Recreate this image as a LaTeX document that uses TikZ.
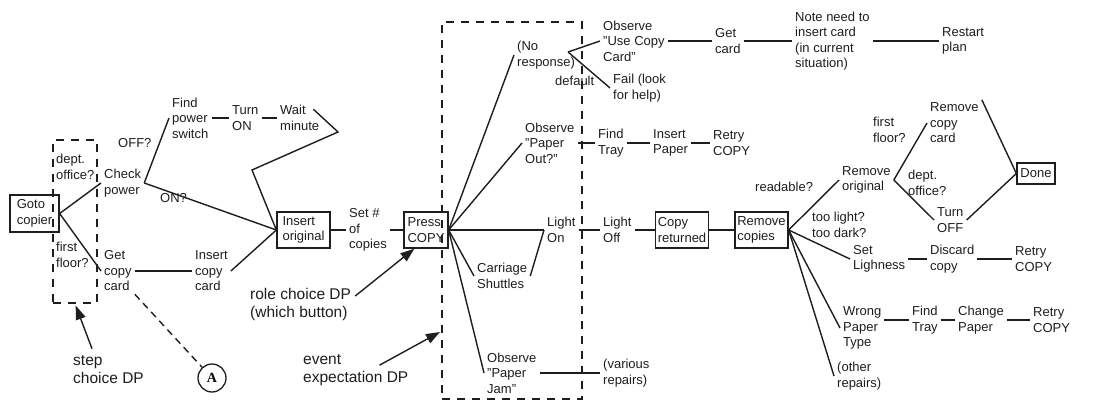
\documentclass[tikz,border=0pt]{standalone}
\usepackage{fontspec}
\setmainfont{Liberation Sans}
\newfontfamily\circfont{Liberation Serif}
\usetikzlibrary{arrows.meta,positioning,calc}
\definecolor{ink}{HTML}{1E1E1E}
\newcommand{\dtext}{\fontsize{13}{15.5}\selectfont}
\newcommand{\dptext}{\fontsize{15.5}{18}\selectfont}
\tikzset{act/.style={font=\dtext,align=left,inner sep=3pt,text=ink,anchor=west},actbox/.style={draw=ink,line width=1.3pt,font=\dtext,align=left,inner sep=2pt,text=ink},dplab/.style={font=\dptext,align=left,inner sep=2pt,text=ink,anchor=west},dpframe/.style={draw=ink,line width=1.4pt,dash pattern=on 8pt off 7pt},ln/.style={draw=ink,line width=1.4pt},dparr/.style={ln,-{Triangle[length=14pt,width=10pt]}}}

\begin{document}
\begin{tikzpicture}[x=1pt,y=-1pt]
\fill[white] (0,0) rectangle (1102,401);
\useasboundingbox (0,0) rectangle (1102,401);
% decision point frames
\node[dpframe,minimum width=44,minimum height=163] (stepbox) at (75,221.5) {};
\node[dpframe,minimum width=140,minimum height=377] (evbox) at (512,210.5) {};
% left part
\node[actbox,minimum width=49,minimum height=37] (goto) at (34.5,213.5) {Goto\\copier};
\node[act] (deptL) at (53,167) {dept.\\office?};
\node[act] (firstL) at (53,255) {first\\floor?};
\node[act] (check) at (101,183) {Check\\power};
\node[act] (getcard) at (101,271) {Get\\copy\\card};
\node[act] (offq) at (115,143) {OFF?};
\node[act] (onq) at (157,198) {ON?};
\node[act] (findps) at (169,118) {Find\\power\\switch};
\node[act] (turnon) at (229,118) {Turn\\ON};
\node[act] (wait) at (277,118) {Wait\\minute};
\node[act] (inscard) at (192,271) {Insert\\copy\\card};
\node[actbox,minimum width=53,minimum height=36] (insorig) at (303.5,230) {Insert\\original};
\node[act] (setn) at (346,230) {Set \#\\of\\copies};
\node[actbox,minimum width=44,minimum height=36] (press) at (426,230) {Press\\COPY};
\coordinate (wtip) at (338,132);
\coordinate (wbend) at (252,170);
\node[draw=ink,line width=1.3pt,circle,minimum size=28,inner sep=0pt,font=\circfont\bfseries\fontsize{14}{14}\selectfont] (circA) at (212,378) {A};
% after pressing copy
\node[act] (noresp) at (514,55) {(No\\response)};
\coordinate (nrv) at (568,52);
\node[act] (useobs) at (600,41) {Observe\\"Use Copy\\Card"};
\node[act] (fail) at (610,88) {Fail (look\\for help)};
\node[act] (dflt) at (552,81) {default};
\node[act] (getc) at (712,41) {Get\\card};
\node[act] (note) at (792,41) {Note need to\\insert card\\(in current\\situation)};
\node[act] (restart) at (939,41) {Restart\\plan};
\node[act] (paperout) at (522,143) {Observe\\"Paper\\Out?"};
\node[act] (findtray1) at (595,143) {Find\\Tray};
\node[act] (inspaper) at (650,143) {Insert\\Paper};
\node[act] (retry1) at (710,143) {Retry\\COPY};
\node[act] (lighton) at (544,230) {Light\\On};
\node[act] (lightoff) at (600,230) {Light\\Off};
\node[actbox,minimum width=52,minimum height=36] (copyret) at (682,230) {Copy\\returned};
\node[actbox,minimum width=53,minimum height=36] (remcop) at (761.5,230) {Remove\\copies};
\node[act] (carriage) at (474,276) {Carriage\\Shuttles};
\node[act] (jam) at (484,373) {Observe\\"Paper\\Jam"};
\node[act] (various) at (600,373) {(various\\repairs)};
% right part
\node[act] (readable) at (752,187) {readable?};
\node[act] (remorig) at (839,180) {Remove\\original};
\node[act] (firstR) at (870,130) {first\\floor?};
\node[act] (deptR) at (905,183) {dept.\\office?};
\node[act] (remcard) at (927,123) {Remove\\copy\\card};
\node[act] (turnoff) at (934,220) {Turn\\OFF};
\node[actbox,minimum width=38,minimum height=21] (done) at (1036,173.5) {Done};
\node[act] (toolight) at (809,225) {too light?\\too dark?};
\node[act] (setlight) at (850,259) {Set\\Lighness};
\node[act] (discard) at (927,259) {Discard\\copy};
\node[act] (retry2) at (1012,259) {Retry\\COPY};
\node[act] (wrong) at (840,328) {Wrong\\Paper\\Type};
\node[act] (findtray2) at (909,320) {Find\\Tray};
\node[act] (change) at (955,320) {Change\\Paper};
\node[act] (retry3) at (1030,320) {Retry\\COPY};
\node[act] (otherrep) at (834,376) {(other\\repairs)};
% annotations
\node[dplab] (stepdp) at (71,370) {step\\choice DP};
\node[dplab] (roledp) at (248,304) {role choice DP\\(which button)};
\node[dplab] (eventdp) at (301,370) {event\\expectation DP};
\coordinate (evtip) at (440,332);
% connectors
\draw[ln] (goto.east) -- (check.west);
\draw[ln] (goto.east) -- (getcard.west);
\draw[ln] (check.east) -- (findps.west);
\draw[ln] (check.east) -- (insorig.west);
\draw[ln] (findps.east) -- (turnon.west);
\draw[ln] (turnon.east) -- (wait.west);
\draw[ln] (wait.north east) ++(-9,7) -- (wtip) -- (wbend) -- (insorig.west);
\draw[ln] (getcard.east) -- (inscard.west);
\draw[ln] (inscard.east) -- (insorig.west);
\draw[ln] (insorig.east) -- (setn.west);
\draw[ln] (setn.east) -- (press.west);
\draw[ln,dash pattern=on 7pt off 5pt] (getcard.south east) -- (circA);
\draw[ln] (press.east) -- (noresp.west);
\draw[ln] (press.east) -- (paperout.west);
\draw[ln] (press.east) -- (lighton.west);
\draw[ln] (press.east) -- (carriage.west);
\draw[ln] (press.east) -- (jam.west);
\draw[ln] (carriage.east) -- (lighton.west);
\draw[ln] (nrv) -- (useobs.west);
\draw[ln] (nrv) -- (fail.west);
\draw[ln] (useobs.east) -- (getc.west);
\draw[ln] (getc.east) -- (note.west);
\draw[ln] (note.east) -- (restart.west);
\draw[ln] (paperout.east) -- (findtray1.west);
\draw[ln] (findtray1.east) -- (inspaper.west);
\draw[ln] (inspaper.east) -- (retry1.west);
\draw[ln] (lighton.east) -- (lightoff.west);
\draw[ln] (lightoff.east) -- (copyret.west);
\draw[ln] (copyret.east) -- (remcop.west);
\draw[ln] (jam.east) -- (various.west);
\draw[ln] (remcop.east) -- (remorig.west);
\draw[ln] (remorig.east) -- (remcard.west);
\draw[ln] (remorig.east) -- (turnoff.west);
\draw[ln] (remcard.north east) -- (done.west);
\draw[ln] (turnoff.east) -- (done.west);
\draw[ln] (remcop.east) -- (setlight.west);
\draw[ln] (setlight.east) -- (discard.west);
\draw[ln] (discard.east) -- (retry2.west);
\draw[ln] (remcop.east) -- (wrong.west);
\draw[ln] (remcop.east) -- (otherrep.west);
\draw[ln] (wrong.east |- findtray2.west) -- (findtray2.west);
\draw[ln] (findtray2.east) -- (change.west);
\draw[ln] (change.east) -- (retry3.west);
\draw[dparr,shorten >=2pt] (stepdp.north west) ++(21,-5) -- (stepbox.south);
\draw[dparr] (roledp.east) ++(2,-8) -- ([xshift=11pt]press.south west);
\draw[dparr] (eventdp.north east) ++(-31,13) -- (evtip);
\end{tikzpicture}
\end{document}
